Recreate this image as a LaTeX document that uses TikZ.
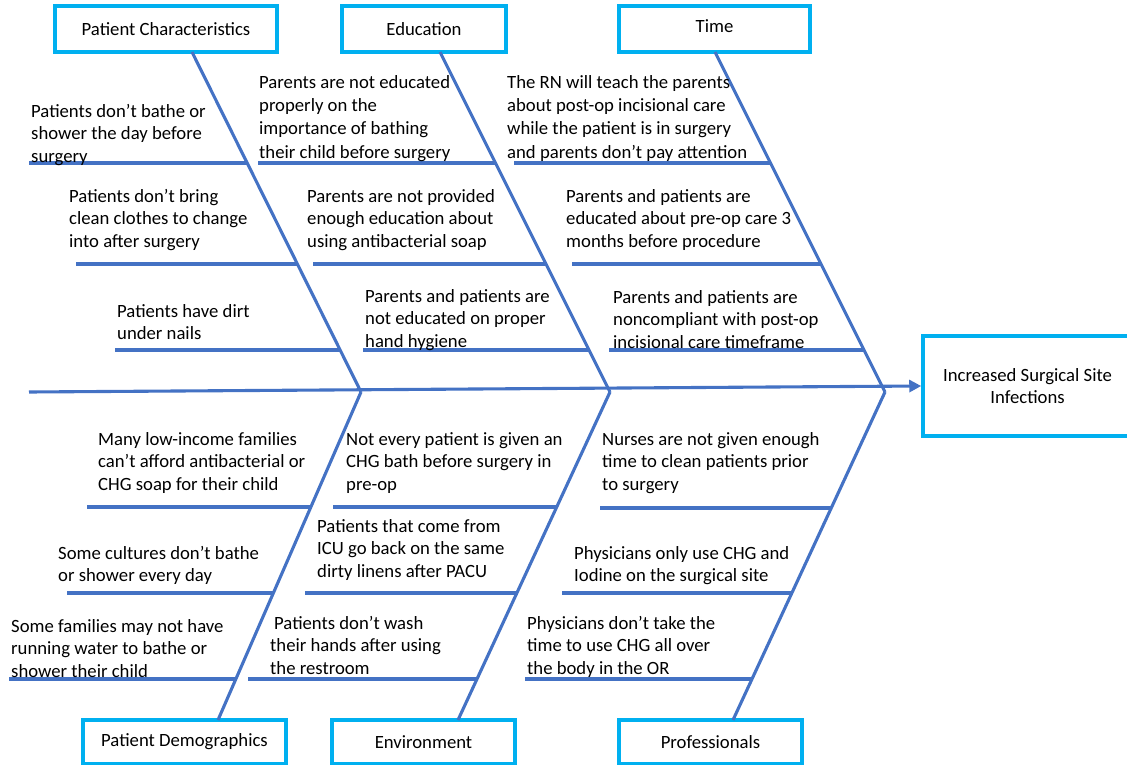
\documentclass[tikz,border=0pt]{standalone}
\usepackage{fontspec}
\setmainfont{Carlito}
\usetikzlibrary{arrows.meta}
\definecolor{bonec}{HTML}{4472C4}
\definecolor{boxc}{HTML}{00B0F0}
\tikzset{
  txt/.style={anchor=north west, inner sep=0pt, align=left, text=black,
    font=\fontsize{18.7}{22.6}\selectfont},
  txtfour/.style={txt, font=\fontsize{18.7}{23.3}\selectfont},
  catbox/.style={draw=boxc, line width=3.5pt, fill=white, inner sep=0pt, text=black,
    font=\fontsize{18.7}{22.6}\selectfont, align=center},
  bone/.style={draw=bonec, line width=3.1pt},
  rib/.style={draw=bonec, line width=3.1pt}
}
\begin{document}
\begin{tikzpicture}[x=1pt,y=-1pt]
\useasboundingbox (0,0) rectangle (1127,765);

% category boxes
\node[catbox, minimum width=222pt, minimum height=46pt] (pc) at (166,29) {Patient Characteristics};
\node[catbox, minimum width=164pt, minimum height=46pt] (edu) at (424,29) {Education};
\node[catbox, minimum width=191pt, minimum height=46pt] (time) at (714.5,29) {\raisebox{6pt}{Time}};
\node[catbox, minimum width=203pt, minimum height=44pt] (pd) at (184.5,742) {Patient Demographics};
\node[catbox, minimum width=183pt, minimum height=44pt] (env) at (423.5,742) {Environment};
\node[catbox, minimum width=183pt, minimum height=44pt] (prof) at (710.5,742) {Professionals};
\node[catbox, minimum width=209pt, minimum height=100pt] (eff) at (1027.5,386) {Increased Surgical Site\\Infections};

% joints and bone ends
\coordinate (start) at (29,392);
\coordinate (j1) at (361,392);
\coordinate (j2) at (610,392);
\coordinate (j3) at (885,392);
\coordinate (pcT) at (192,52);
\coordinate (eduT) at (440,52);
\coordinate (timeT) at (715,52);
\coordinate (pdB) at (218,720);
\coordinate (envB) at (458,720);
\coordinate (profB) at (733,720);

% spine
\draw[bone, -{Triangle[length=12pt,width=12pt]}] (start) -- (eff.west);

% bones
\draw[bone] (pcT) -- (j1);
\draw[bone] (eduT) -- (j2);
\draw[bone] (timeT) -- (j3);
\draw[bone] (pdB) -- (j1);
\draw[bone] (envB) -- (j2);
\draw[bone] (profB) -- (j3);

% ribs top
\draw[rib] (29,163) -- (248,163);
\draw[rib] (76,264) -- (298,264);
\draw[rib] (115,350) -- (341,350);
\draw[rib] (258,163) -- (496,163);
\draw[rib] (313,264) -- (546,264);
\draw[rib] (363,350) -- (589,350);
\draw[rib] (514,163) -- (771,163);
\draw[rib] (572,264) -- (822,264);
\draw[rib] (609,350) -- (864,350);
% ribs bottom
\draw[rib] (87,507) -- (311,507);
\draw[rib] (67,593) -- (273,593);
\draw[rib] (9,679) -- (236,679);
\draw[rib] (333,507) -- (556,507);
\draw[rib] (305,593) -- (516,593);
\draw[rib] (248,679) -- (477,679);
\draw[rib] (600,508) -- (831,508);
\draw[rib] (562,593) -- (791,593);
\draw[rib] (525,679) -- (752,679);

% texts - patient characteristics
\node[txt] (t1) at (31,104) {Patients don’t bathe or\\shower the day before\\surgery};
\node[txt] (t2) at (69,189) {Patients don’t bring\\clean clothes to change\\into after surgery};
\node[txt] (t3) at (117,304) {Patients have dirt\\under nails};
% education
\node[txtfour] (t4) at (259,75) {Parents are not educated\\properly on the\\importance of bathing\\their child before surgery};
\node[txt] (t5) at (307,189) {Parents are not provided\\enough education about\\using antibacterial soap};
\node[txt] (t6) at (365,289) {Parents and patients are\\not educated on proper\\hand hygiene};
% time
\node[txtfour] (t7) at (507,75) {The RN will teach the parents\\about post-op incisional care\\while the patient is in surgery\\and parents don’t pay attention};
\node[txt] (t8) at (566,189) {Parents and patients are\\educated about pre-op care 3\\months before procedure};
\node[txt] (t9) at (613,290) {Parents and patients are\\noncompliant with post-op\\incisional care timeframe};
% patient demographics
\node[txt] (t10) at (98,432) {Many low-income families\\can’t afford antibacterial or\\CHG soap for their child};
\node[txt] (t11) at (58,546) {Some cultures don’t bathe\\or shower every day};
\node[txt] (t12) at (11,619) {Some families may not have\\running water to bathe or\\shower their child};
% environment
\node[txt] (t13) at (346,432) {Not every patient is given an\\CHG bath before surgery in\\pre-op};
\node[txt] (t14) at (317,519) {Patients that come from\\ICU go back on the same\\dirty linens after PACU};
\node[txt] (t15) at (270,616) {\hspace*{4pt}Patients don’t wash\\their hands after using\\the restroom};
% professionals
\node[txt] (t16) at (602,432) {Nurses are not given enough\\time to clean patients prior\\to surgery};
\node[txt] (t17) at (574,546) {Physicians only use CHG and\\Iodine on the surgical site};
\node[txt] (t18) at (527,616) {Physicians don’t take the\\time to use CHG all over\\the body in the OR};
\end{tikzpicture}
\end{document}
